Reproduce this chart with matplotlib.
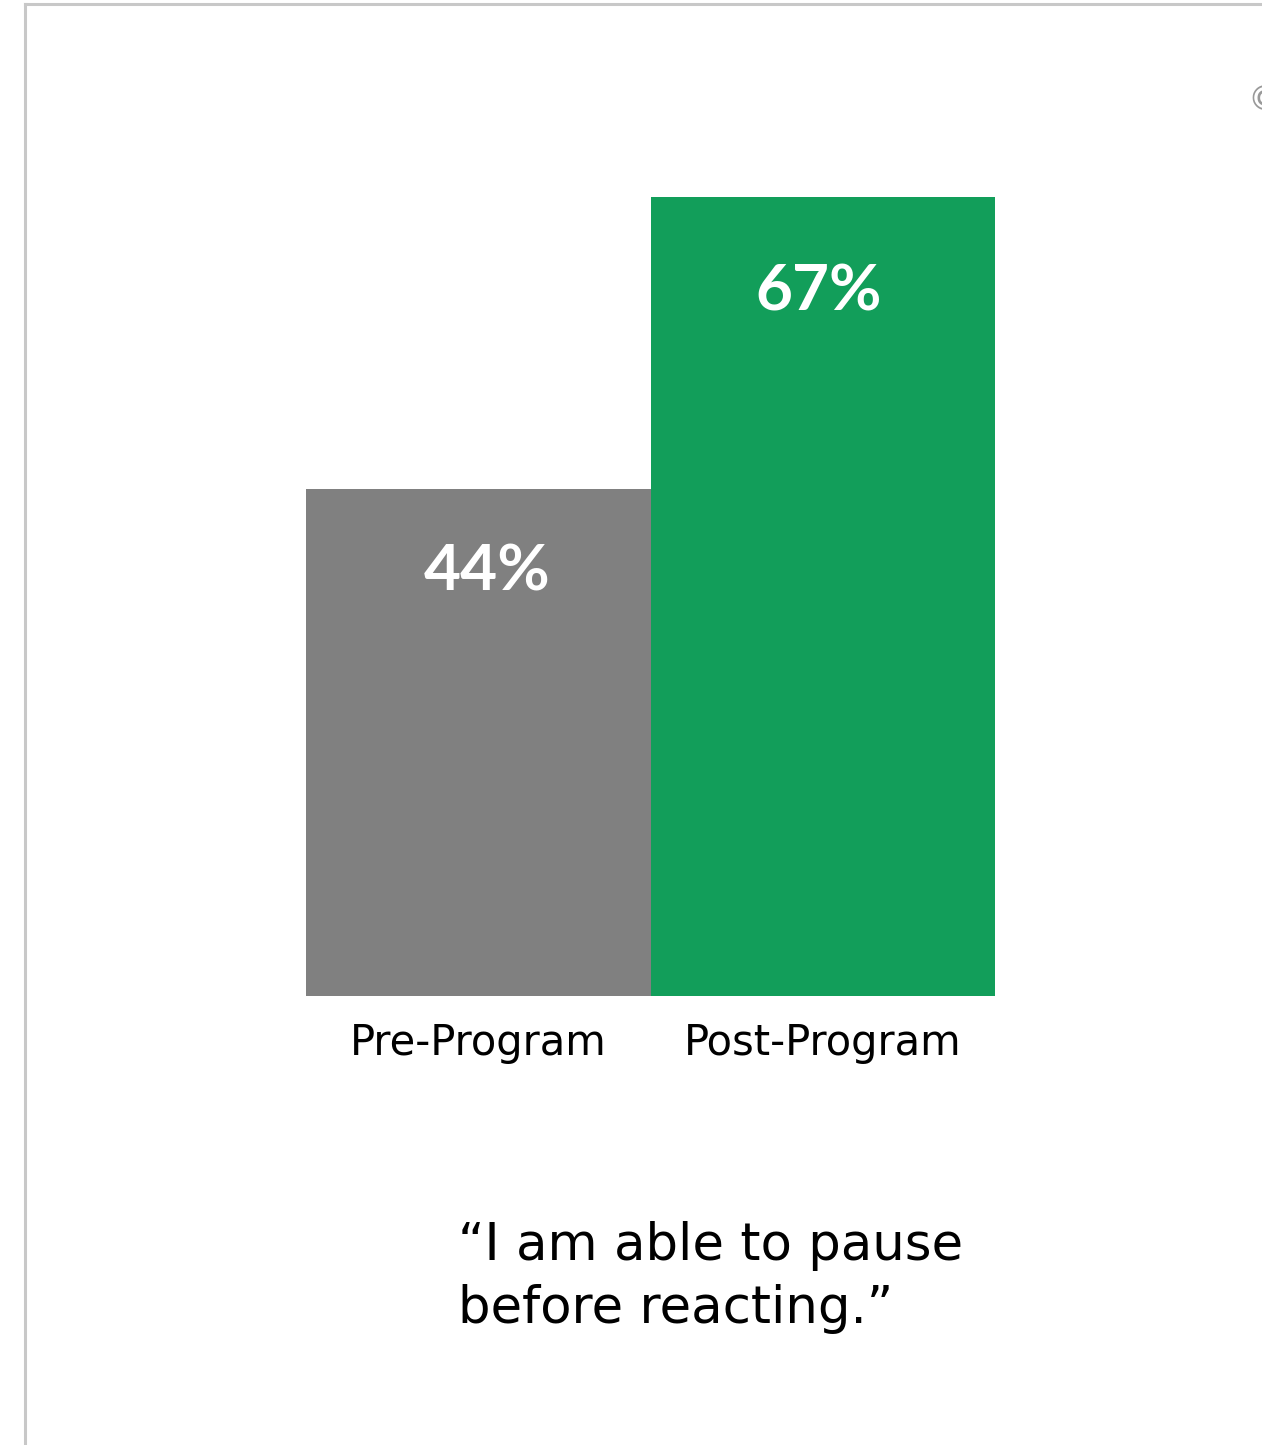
import matplotlib
matplotlib.use("Agg")
import matplotlib.pyplot as plt
from matplotlib.lines import Line2D

categories = ["Pre-Program", "Post-Program"]
values = [44, 67]
value_labels = ["44%", "67%"]
bar_colors = ["#808080", "#129E5A"]
quote_lines = ["\u201cI am able to pause", "before reacting.\u201d"]

W, H = 1262, 1445
fig = plt.figure(figsize=(W / 100, H / 100), dpi=100)
fig.patch.set_facecolor("white")

# axes placed in pixel terms
x0, x1 = 306, 995
y_top, y_bot = 197, 995.5
ax = fig.add_axes([x0 / W, (H - y_bot) / H, (x1 - x0) / W, (y_bot - y_top) / H])
xs = list(range(len(categories)))
ax.bar(xs, values, width=1.0, color=bar_colors, linewidth=0)
ax.set_xlim(-0.5, len(categories) - 0.5)
ax.set_ylim(4.1, max(values))
ax.axis("off")

offsets = [(9, -83), (-4, -95)]
for x, v, lab, off in zip(xs, values, value_labels, offsets):
    ax.annotate(lab, xy=(x, v), xytext=off, textcoords="offset pixels",
                ha="center", va="center", color="white", fontsize=46,
                fontweight="bold", family="Lato")

for x, c in zip(xs, categories):
    ax.annotate(c, xy=(x, 4.1), xytext=(0, -48), textcoords="offset pixels",
                ha="center", va="center", color="black", fontsize=30,
                family="DejaVu Sans")

# quote
fig.text(458 / W, 1 - 1260 / H, quote_lines[0], ha="left", va="baseline",
         fontsize=37, family="DejaVu Sans", color="black")
fig.text(458 / W, 1 - 1323 / H, quote_lines[1], ha="left", va="baseline",
         fontsize=37, family="DejaVu Sans", color="black")

# frame lines
fig.add_artist(Line2D([24.5 / W, 1.0], [1 - 4 / H, 1 - 4 / H], color="#c8c8c8",
                      linewidth=2.2, transform=fig.transFigure))
fig.add_artist(Line2D([24.5 / W, 24.5 / W], [0, 1 - 4 / H], color="#c8c8c8",
                      linewidth=2.2, transform=fig.transFigure))

# partially visible symbol at right edge (cut off as in the reference)
fig.text(1247 / W, 1 - 101 / H, "\u00a9", ha="left", va="center",
         fontsize=24, color="#999999", family="DejaVu Sans")

fig.savefig("out.png", dpi=100, facecolor="white")
